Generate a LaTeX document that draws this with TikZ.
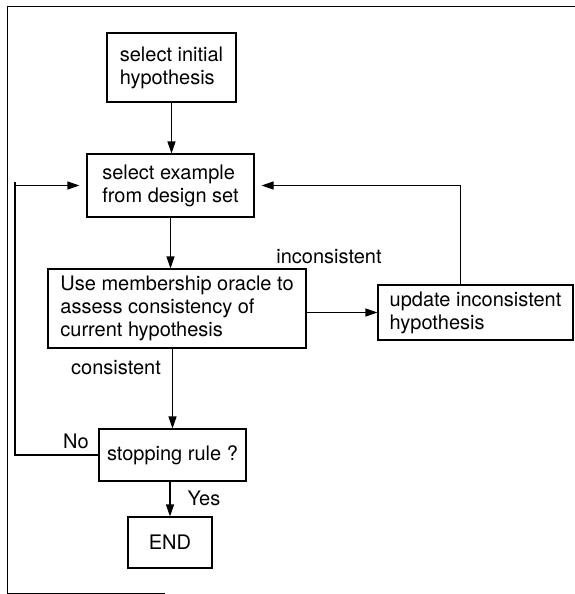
\documentclass[tikz,border=0pt]{standalone}
\usepackage{fontspec}
\setmainfont{TeX Gyre Heros}
\usetikzlibrary{arrows.meta}

\tikzset{
	box/.style={draw, line width=1.1pt, align=left, inner sep=0pt, font=\fontsize{20}{23}\selectfont},
	lbl/.style={inner sep=0pt, font=\fontsize{20}{23}\selectfont},
	arr/.style={line width=1.1pt, -{Triangle[length=12pt,width=8pt]}}
}

\begin{document}
\begin{tikzpicture}[x=1pt, y=-1pt]
		\useasboundingbox (0,0) rectangle (575,594);
		% frame
		\draw[line width=1pt] (575,7) -- (7,7) -- (7,593) -- (165,593);

		% boxes
		\node[box, minimum width=129pt, minimum height=69pt] (init) at (171.5,67.5) {select initial\\hypothesis};
		\node[box, minimum width=167pt, minimum height=63pt] (select) at (170.5,185.5) {select example\\from design set};
		\node[box, minimum width=258pt, minimum height=79pt] (assess) at (177,308.5) {Use membership oracle to\\assess consistency of\\current hypothesis};
		\node[box, minimum width=195pt, minimum height=55pt] (update) at (475.5,312.5) {update inconsistent\\hypothesis};
		\node[box, minimum width=147pt, minimum height=52pt] (stop) at (172.5,455) {stopping rule ?};
		\node[box, minimum width=84pt, minimum height=51pt] (finish) at (170,542.5) {END};
		\coordinate (loopL) at (15,182);

		% labels
		\node[lbl] (inc) at (329,257) {inconsistent};
		\node[lbl] (con) at (116,368) {consistent};
		\node[lbl] (no) at (76,441) {No};
		\node[lbl] (yes) at (204,498) {Yes};

		% arrows
		\draw[arr] (init.south) -- (init.south |- select.north);
		\draw[arr] (select.south) -- (select.south |- assess.north);
		\draw[arr] (update.west -| assess.east) -- (update.west);
		\draw[arr, shorten >=7pt] ([xshift=-15pt]update.north) |- (select.east);
		\draw[arr] (stop.north |- assess.south) -- (stop.north);
		\draw[arr] (finish.north |- stop.south) -- (finish.north);
		\draw[arr, shorten >=7pt] (stop.west) -| (loopL) |- (select.west);
	\end{tikzpicture}
\end{document}
